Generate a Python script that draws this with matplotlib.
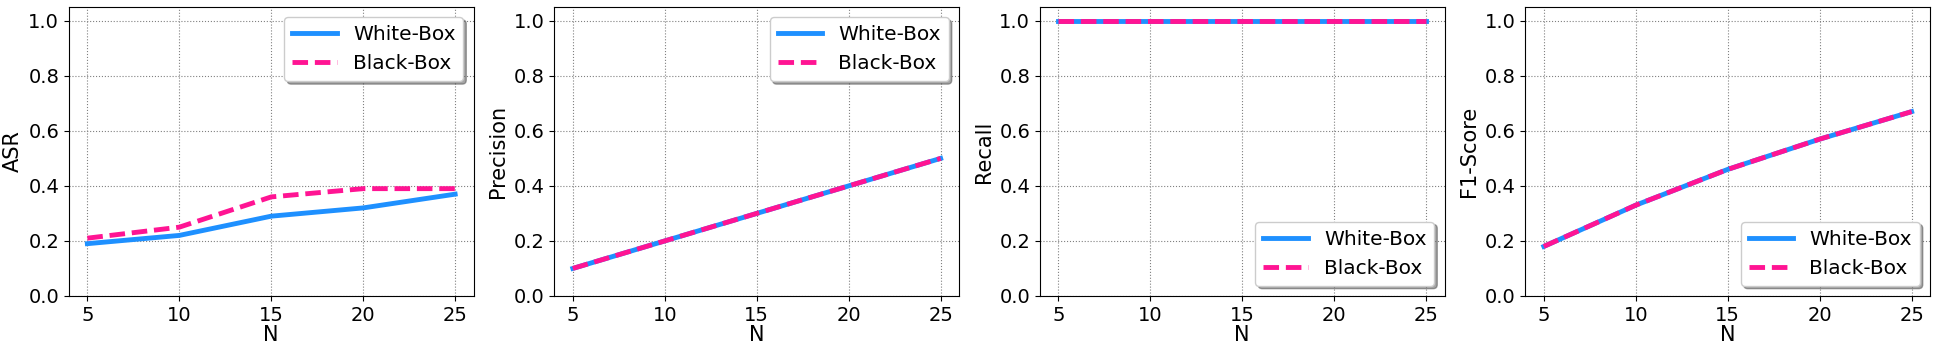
import matplotlib
matplotlib.use('Agg')
import matplotlib.pyplot as plt

N = [5, 10, 15, 20, 25]
asr_white = [0.19, 0.22, 0.29, 0.32, 0.37]
asr_black = [0.21, 0.25, 0.36, 0.39, 0.39]
prec_white = [0.10, 0.20, 0.30, 0.40, 0.50]
prec_black = [0.10, 0.20, 0.30, 0.40, 0.50]
rec_white = [1.0, 1.0, 1.0, 1.0, 1.0]
rec_black = [1.0, 1.0, 1.0, 1.0, 1.0]
f1_white = [0.18, 0.33, 0.46, 0.57, 0.67]
f1_black = [0.18, 0.33, 0.46, 0.57, 0.67]

panels = [
    ('ASR', asr_white, asr_black, 'upper right'),
    ('Precision', prec_white, prec_black, 'upper right'),
    ('Recall', rec_white, rec_black, 'lower right'),
    ('F1-Score', f1_white, f1_black, 'lower right'),
]

plt.rcParams['font.size'] = 14
fig, axes = plt.subplots(1, 4, figsize=(19.37, 3.54), dpi=100)
fig.subplots_adjust(left=0.0356, right=0.9964, top=0.98, bottom=0.164, wspace=0.2)

for ax, (name, w, b, loc) in zip(axes, panels):
    ax.plot(N, w, color='#1E90FF', lw=3.5, label='White-Box')
    ax.plot(N, b, color='#FF1493', lw=3.5, ls=(0, (3.2, 1.4)), label='Black-Box')
    ax.set_ylim(0, 1.05)
    ax.set_xticks(N)
    ax.set_yticks([0.0, 0.2, 0.4, 0.6, 0.8, 1.0])
    ax.tick_params(labelsize=14)
    ax.grid(True, ls=':', color='gray', lw=0.8)
    ax.set_xlabel('N', fontsize=15, labelpad=0)
    ax.set_ylabel(name, fontsize=15)
    ax.legend(loc=loc, shadow=True, fontsize=14.5, handlelength=2.2)

plt.savefig('out.png')
